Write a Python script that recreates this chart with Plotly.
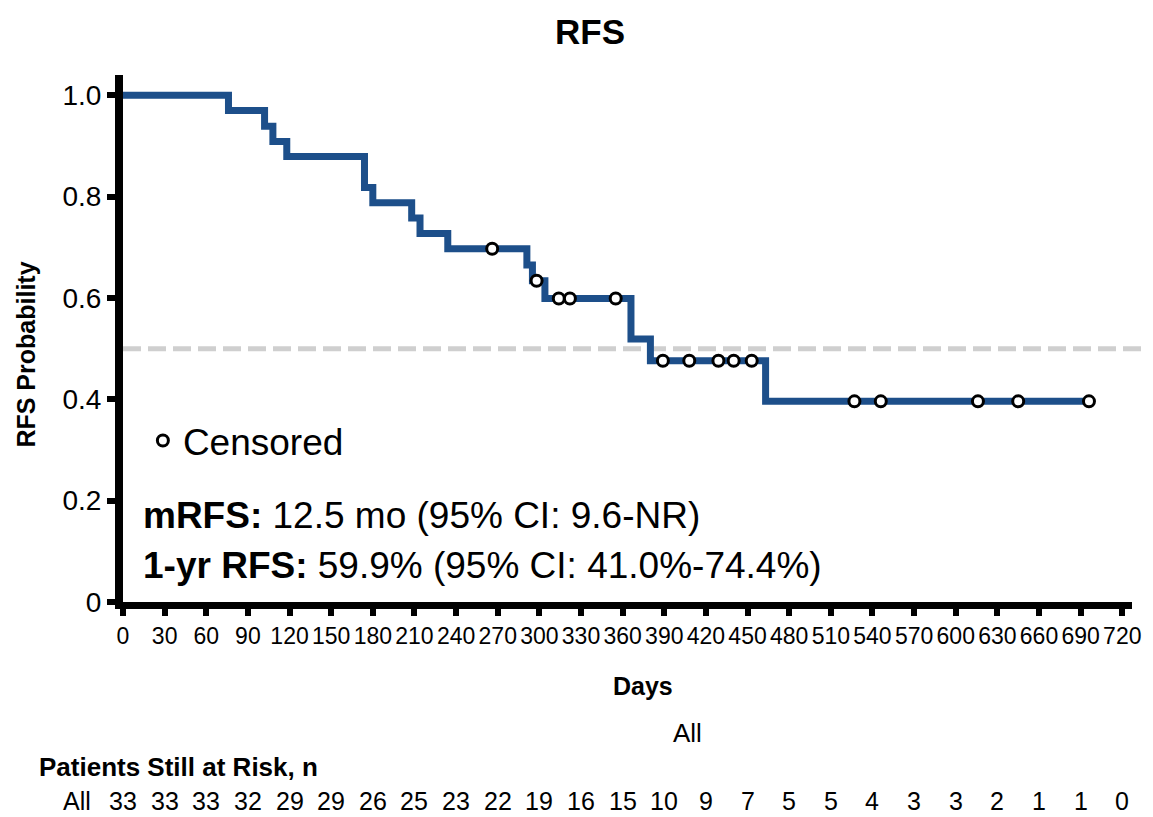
import plotly.graph_objects as go

# Kaplan-Meier estimate: RFS probability after each event (step function, days)
step_days = [0, 76, 102, 108, 118, 174, 180, 208, 214, 234, 291, 295, 304, 366, 380, 463, 696]
step_prob = [1.0, 0.970, 0.939, 0.909, 0.879, 0.818, 0.788, 0.758, 0.727, 0.697,
             0.665, 0.634, 0.599, 0.519, 0.476, 0.396, 0.396]

# Censored observations
censor_days = [266, 298, 314, 322, 355, 389, 408, 429, 440, 453, 527, 546, 616, 645, 696]
censor_prob = [0.697, 0.634, 0.599, 0.599, 0.599, 0.476, 0.476, 0.476, 0.476, 0.476,
               0.396, 0.396, 0.396, 0.396, 0.396]

# Axis ticks and number-at-risk table
tick_days = list(range(0, 721, 30))
tick_labels = [str(d) for d in tick_days]
at_risk = [33, 33, 33, 32, 29, 29, 26, 25, 23, 22, 19, 16, 15, 10, 9, 7, 5, 5, 4, 3, 3, 2, 1, 1, 0]
y_ticks = [0, 0.2, 0.4, 0.6, 0.8, 1.0]
y_tick_labels = ["0", "0.2", "0.4", "0.6", "0.8", "1.0"]
median_level = 0.5

summary_lines = [
    "<b>mRFS:</b> 12.5 mo (95% CI: 9.6-NR)",
    "<b>1-yr RFS:</b> 59.9% (95% CI: 41.0%-74.4%)",
]

# ---- page geometry (pixels) ----
W, H = 1153, 817
L, R, T, B = 123, 15, 75, 215
PW, PH = W - L - R, H - T - B


def px(x):
    return (x - L) / PW


def py(y):
    return (H - B - y) / PH


FONT = "'Liberation Sans', Arial, sans-serif"
BLUE = "#1d4f8a"

fig = go.Figure()

fig.add_trace(go.Scatter(
    x=step_days, y=step_prob, mode="lines", line=dict(color=BLUE, width=7, shape="hv"),
    showlegend=False, hoverinfo="skip",
))
fig.add_trace(go.Scatter(
    x=censor_days, y=censor_prob, mode="markers", name="Censored",
    marker=dict(symbol="circle", size=11, color="white", line=dict(color="black", width=3)),
    showlegend=True,
))

# 50% reference line
fig.add_shape(type="line", xref="paper", yref="y", x0=0, x1=px(1149),
              y0=median_level, y1=median_level, layer="below",
              line=dict(color="#cfcfcf", width=5, dash="18px,7px"))

annotations = []
for i, txt in enumerate(summary_lines):
    annotations.append(dict(
        text=txt, xref="paper", yref="paper", x=px(141), y=py(515 + 50 * i),
        xanchor="left", yanchor="middle", showarrow=False,
        font=dict(family=FONT, size=37, color="black"),
    ))

annotations += [
    dict(text="<b>Days</b>", xref="paper", yref="paper", x=px(646), y=py(686),
         xanchor="center", yanchor="middle", showarrow=False,
         font=dict(family=FONT, size=25, color="black")),
    dict(text="<b>RFS Probability</b>", xref="paper", yref="paper", x=px(25), y=py(355),
         xanchor="center", yanchor="middle", showarrow=False, textangle=-90,
         font=dict(family=FONT, size=25, color="black")),
    dict(text="All", xref="paper", yref="paper", x=px(691), y=py(733),
         xanchor="center", yanchor="middle", showarrow=False,
         font=dict(family=FONT, size=26, color="black")),
    dict(text="<b>Patients Still at Risk, n</b>", xref="paper", yref="paper", x=px(36), y=py(767),
         xanchor="left", yanchor="middle", showarrow=False,
         font=dict(family=FONT, size=26, color="black")),
    dict(text="All", xref="paper", yref="paper", x=px(92), y=py(801),
         xanchor="right", yanchor="middle", showarrow=False, borderpad=0,
         font=dict(family=FONT, size=25, color="black")),
]
for d, n in zip(tick_days, at_risk):
    annotations.append(dict(
        text=str(n), xref="x", yref="paper", x=d, y=py(801),
        xanchor="center", yanchor="middle", showarrow=False, borderpad=0,
        font=dict(family=FONT, size=25, color="black"),
    ))

fig.update_layout(
    width=W, height=H, autosize=False,
    margin=dict(l=L, r=R, t=T, b=B),
    paper_bgcolor="white", plot_bgcolor="white",
    title=dict(text="<b>RFS</b>", x=590 / W, y=1 - 32 / H, xref="container", yref="container",
               xanchor="center", yanchor="middle",
               font=dict(family=FONT, size=35, color="black")),
    legend=dict(x=px(143), y=py(441), xanchor="left", yanchor="middle",
                bgcolor="rgba(0,0,0,0)", font=dict(family=FONT, size=37, color="black")),
    annotations=annotations,
    xaxis=dict(range=[0, 727], tickmode="array", tickvals=tick_days, ticktext=tick_labels,
               tickangle=0,
               showline=True, linecolor="black", linewidth=7, showgrid=False, zeroline=False,
               ticks="outside", ticklen=7, tickwidth=6, tickcolor="black",
               tickfont=dict(family=FONT, size=23, color="black")),
    yaxis=dict(range=[0, 1.04], tickmode="array", tickvals=y_ticks, ticktext=y_tick_labels,
               showline=True, linecolor="black", linewidth=8, showgrid=False, zeroline=False,
               ticks="outside", ticklen=8, tickwidth=6, tickcolor="black",
               tickfont=dict(family=FONT, size=28, color="black")),
)

fig.write_html("out.html")
